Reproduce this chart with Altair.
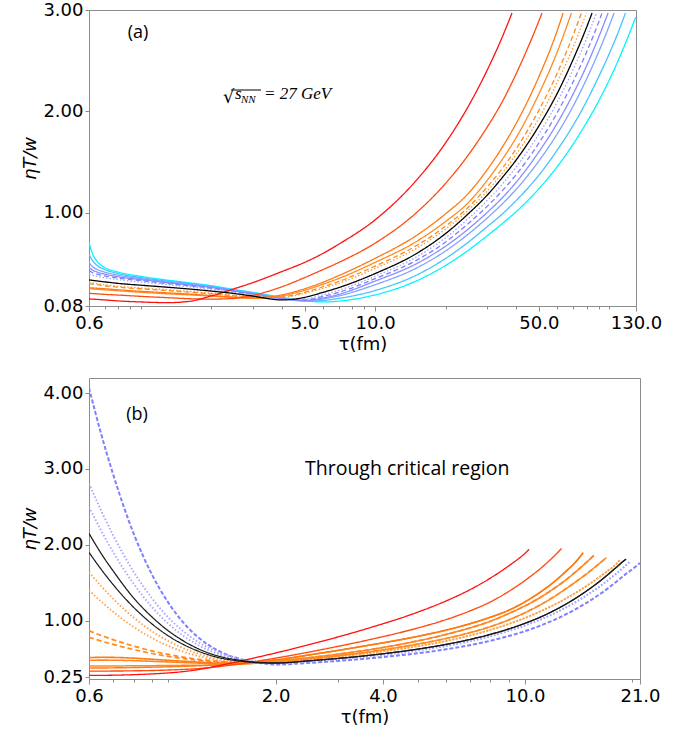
import altair as alt
import pandas as pd

# ---------------- Panel (a) data ----------------
TAU_A = [0.6, 0.62, 0.65, 0.7, 0.8, 1.0, 1.3, 1.6, 2.0, 2.5, 3.0, 4.0, 5.0, 6.0, 7.0,
         10, 15, 20, 25, 30, 35, 40, 50, 60, 70, 80, 90, 100, 110, 120]

A_RED = [0.15, 0.148, 0.145, 0.14, 0.13, 0.12, 0.113, 0.125, 0.18, 0.25, 0.31, 0.42, 0.51, 0.60, 0.69,
         0.93, 1.32, 1.69, 2.05, 2.40, 2.74]
A_RED_END = [38.4, 2.97]
A_ORED = [0.205, 0.203, 0.20, 0.195, 0.188, 0.175, 0.162, 0.152, 0.148, 0.155, 0.185, 0.27, 0.36, 0.44, 0.51,
          0.70, 1.00, 1.29, 1.57, 1.84, 2.10, 2.37, 2.89]
A_ORED_END = [51.6, 2.97]
A_OR1 = [0.26, 0.258, 0.255, 0.25, 0.24, 0.225, 0.21, 0.198, 0.183, 0.168, 0.16, 0.19, 0.25, 0.315, 0.38,
         0.55, 0.775, 0.99, 1.19, 1.42, 1.65, 1.88, 2.34, 2.80]
A_OR1_END = [63.5, 2.97]
A_OR2 = [0.25, 0.248, 0.245, 0.24, 0.23, 0.215, 0.20, 0.19, 0.177, 0.163, 0.155, 0.18, 0.235, 0.295, 0.352,
         0.51, 0.716, 0.914, 1.10, 1.315, 1.53, 1.74, 2.17, 2.59]
A_OR2_END = [68.9, 2.97]
A_ORDASH = [0.30, 0.295, 0.29, 0.28, 0.265, 0.25, 0.232, 0.217, 0.20, 0.18, 0.165, 0.17, 0.215, 0.27, 0.322,
            0.474, 0.675, 0.868, 1.054, 1.25, 1.44, 1.63, 2.01, 2.38, 2.75]
A_ORDASH_END = [76.0, 2.97]
A_ORDOT = [0.313, 0.308, 0.30, 0.29, 0.275, 0.258, 0.24, 0.225, 0.206, 0.185, 0.168, 0.165, 0.205, 0.255, 0.303,
           0.451, 0.649, 0.839, 1.025, 1.21, 1.395, 1.576, 1.93, 2.29, 2.63]
A_ORDOT_END = [79.8, 2.97]
A_BLACK = [0.337, 0.333, 0.327, 0.318, 0.303, 0.285, 0.265, 0.248, 0.227, 0.203, 0.178, 0.14, 0.165, 0.215, 0.262,
           0.40, 0.597, 0.795, 0.99, 1.17, 1.35, 1.52, 1.855, 2.18, 2.51, 2.83]
A_BLACK_END = [84.4, 2.97]
A_BDOT = [0.396, 0.385, 0.372, 0.36, 0.34, 0.315, 0.29, 0.27, 0.245, 0.215, 0.19, 0.145, 0.15, 0.19, 0.235,
          0.374, 0.563, 0.753, 0.943, 1.117, 1.285, 1.45, 1.775, 2.095, 2.41, 2.72]
A_BDOT_END = [88.1, 2.97]
A_BDASH = [0.43, 0.41, 0.395, 0.378, 0.355, 0.33, 0.30, 0.28, 0.255, 0.222, 0.195, 0.148, 0.14, 0.175, 0.215,
           0.35, 0.53, 0.712, 0.894, 1.06, 1.22, 1.376, 1.686, 1.99, 2.29, 2.586, 2.878]
A_BDASH_END = [93.1, 2.97]
A_BLUE1 = [0.46, 0.435, 0.415, 0.395, 0.368, 0.34, 0.31, 0.288, 0.262, 0.228, 0.20, 0.152, 0.135, 0.16, 0.195,
           0.326, 0.497, 0.67, 0.84, 1.0, 1.15, 1.30, 1.60, 1.885, 2.17, 2.45, 2.73]
A_BLUE1_END = [98.8, 2.97]
A_BLUE2 = [0.51, 0.47, 0.44, 0.415, 0.383, 0.35, 0.318, 0.295, 0.268, 0.233, 0.205, 0.155, 0.132, 0.15, 0.18,
           0.29, 0.454, 0.623, 0.79, 0.945, 1.09, 1.23, 1.51, 1.78, 2.05, 2.32, 2.585, 2.846]
A_BLUE2_END = [104.8, 2.97]
A_LBLUE = [0.593, 0.53, 0.48, 0.44, 0.40, 0.36, 0.325, 0.302, 0.273, 0.238, 0.21, 0.16, 0.128, 0.135, 0.155,
           0.233, 0.384, 0.549, 0.71, 0.86, 0.99, 1.12, 1.37, 1.62, 1.86, 2.10, 2.34, 2.57, 2.80]
A_LBLUE_END = [117.2, 2.97]
A_CYAN = [0.707, 0.60, 0.52, 0.46, 0.415, 0.372, 0.335, 0.31, 0.28, 0.243, 0.215, 0.165, 0.132, 0.12, 0.128,
          0.19, 0.327, 0.48, 0.63, 0.77, 0.895, 1.01, 1.235, 1.456, 1.675, 1.89, 2.10, 2.31, 2.52, 2.73]
A_CYAN_END = [129.7, 2.93]

# ---------------- Panel (b) data ----------------
TAU_B = [0.6, 0.65, 0.7, 0.8, 0.9, 1.0, 1.1, 1.2, 1.4, 1.6, 1.8, 2.0, 2.5, 3.0, 3.67,
         5, 6, 7, 8, 9, 10, 11, 12, 13, 14, 15, 16, 17, 18, 19, 20]

B_RED = [0.277, 0.278, 0.28, 0.287, 0.297, 0.31, 0.327, 0.35, 0.41, 0.468, 0.523, 0.573, 0.687, 0.786, 0.905,
         1.111, 1.258, 1.406, 1.561, 1.722, 1.888]
B_RED_END = [10.27, 1.94]
B_ORED = [0.334, 0.334, 0.335, 0.338, 0.342, 0.348, 0.356, 0.366, 0.395, 0.432, 0.469, 0.505, 0.588, 0.662, 0.749,
          0.902, 1.012, 1.127, 1.247, 1.384, 1.53, 1.68, 1.84]
B_ORED_END = [12.65, 1.95]
# late parts (from tau = 2.0)
B_OR1_LATE = [0.48, 0.549, 0.608, 0.677, 0.792, 0.874, 0.958, 1.045, 1.137, 1.248, 1.371, 1.503, 1.646, 1.796]
B_OR1_END = [14.55, 1.895]
B_OR2_LATE = [0.465, 0.513, 0.558, 0.617, 0.732, 0.817, 0.903, 0.992, 1.093, 1.194, 1.302, 1.417, 1.535, 1.66,
              1.785]
B_OR2_END = [15.6, 1.86]
B_OR3_LATE = [0.455, 0.497, 0.537, 0.59, 0.69, 0.764, 0.84, 0.921, 1.009, 1.104, 1.204, 1.309, 1.418, 1.525,
              1.63, 1.737]
B_OR3_END = [16.9, 1.83]
# late parts (from tau = 2.5)
B_DOT_LATE = [0.488, 0.525, 0.572, 0.663, 0.731, 0.803, 0.878, 0.955, 1.035, 1.118, 1.203, 1.29, 1.379, 1.469,
              1.56, 1.652, 1.745]
B_DOT_END = [18.4, 1.80]
B_BLACK_LATE = [0.471, 0.502, 0.543, 0.624, 0.686, 0.751, 0.819, 0.89, 0.965, 1.043, 1.128, 1.216, 1.308, 1.403,
                1.50, 1.60, 1.70, 1.795]
B_BLACK_END = [19.2, 1.81]
B_BDOT_LATE = [0.465, 0.493, 0.53, 0.607, 0.666, 0.728, 0.794, 0.864, 0.936, 1.011, 1.089, 1.171, 1.256, 1.344,
               1.434, 1.526, 1.619, 1.713]
B_BDOT_END = [19.7, 1.78]
B_BDASH_LATE = [0.444, 0.469, 0.503, 0.57, 0.621, 0.676, 0.734, 0.796, 0.861, 0.931, 1.004, 1.081, 1.162, 1.245,
                1.331, 1.419, 1.51, 1.60, 1.68]
B_BDASH_END = [21.0, 1.76]
# early parts (tau 0.6 .. 1.8)
B_S1 = [0.512, 0.516, 0.515, 0.505, 0.49, 0.477, 0.465, 0.455, 0.44, 0.44, 0.455]
B_S2 = [0.476, 0.479, 0.478, 0.472, 0.463, 0.455, 0.447, 0.44, 0.43, 0.43, 0.445]
B_S3 = [0.40, 0.401, 0.402, 0.404, 0.406, 0.408, 0.41, 0.412, 0.415, 0.425, 0.44]
B_S4 = [0.374, 0.375, 0.377, 0.381, 0.386, 0.391, 0.397, 0.403, 0.418, 0.435, 0.455]
B_D1 = [0.865, 0.803, 0.75, 0.664, 0.60, 0.554, 0.519, 0.493, 0.46, 0.445, 0.452]
B_D2 = [0.78, 0.73, 0.687, 0.618, 0.567, 0.528, 0.50, 0.479, 0.453, 0.44, 0.445]
# early parts (tau 0.6 .. 2.0)
B_P1 = [1.64, 1.452, 1.292, 1.041, 0.861, 0.731, 0.638, 0.571, 0.489, 0.456, 0.449, 0.452]
B_P2 = [1.40, 1.248, 1.119, 0.917, 0.772, 0.667, 0.592, 0.538, 0.471, 0.447, 0.444, 0.45]
B_K1 = [2.15, 1.88, 1.66, 1.30, 1.05, 0.867, 0.736, 0.64, 0.525, 0.475, 0.448, 0.442]
B_K2 = [1.90, 1.672, 1.479, 1.176, 0.958, 0.80, 0.688, 0.607, 0.507, 0.465, 0.444, 0.44]
B_B1 = [2.81, 2.444, 2.133, 1.646, 1.297, 1.043, 0.863, 0.733, 0.572, 0.494, 0.456, 0.439]
B_B2 = [2.50, 2.181, 1.91, 1.486, 1.181, 0.961, 0.803, 0.69, 0.55, 0.482, 0.45, 0.436]
B_BD = [4.07, 3.45, 2.94, 2.15, 1.61, 1.24, 0.98, 0.80, 0.59, 0.49, 0.443, 0.42]

A_XTICKS = [0.6, 5, 10, 50, 130]
A_XMINOR = [0.7, 0.8, 0.9, 1, 2, 3, 4, 6, 7, 8, 9, 20, 30, 40, 60, 70, 80, 90, 100]
A_YTICKS = [0.08, 1, 2, 3]
B_XTICKS = [0.6, 2, 4, 10, 21]
B_XMINOR = [0.7, 0.8, 0.9, 1, 3, 5, 6, 7, 8, 9, 20]
B_YTICKS = [0.25, 1, 2, 3, 4]

SOLID = [1, 0]
DASH = [5, 3]
DOT = [1.5, 2]

# series: (name, values, end, color, dash, width)
SERIES_A = [
    ("a13", A_CYAN, A_CYAN_END, "#00f5ff", SOLID, 1.3),
    ("a12", A_LBLUE, A_LBLUE_END, "#45c2ff", SOLID, 1.3),
    ("a11", A_BLUE2, A_BLUE2_END, "#7ea4ff", SOLID, 1.3),
    ("a10", A_BLUE1, A_BLUE1_END, "#8a8cff", SOLID, 1.3),
    ("a09", A_BDASH, A_BDASH_END, "#7d7dff", DASH, 1.3),
    ("a08", A_BDOT, A_BDOT_END, "#a0a0ff", DOT, 1.3),
    ("a06", A_ORDOT, A_ORDOT_END, "#ff9a30", DOT, 1.3),
    ("a05", A_ORDASH, A_ORDASH_END, "#ff8a1a", DASH, 1.3),
    ("a04", A_OR2, A_OR2_END, "#ff8a20", SOLID, 1.3),
    ("a03", A_OR1, A_OR1_END, "#ff7a10", SOLID, 1.3),
    ("a02", A_ORED, A_ORED_END, "#ff4a10", SOLID, 1.3),
    ("a01", A_RED, A_RED_END, "#ff1010", SOLID, 1.3),
    ("a07", A_BLACK, A_BLACK_END, "#000000", SOLID, 1.3),
]

SERIES_B = [
    ("b15", B_BD + B_BDASH_LATE, B_BDASH_END, "#7f7fff", [4, 2], 2.0),
    ("b14", B_B1 + B_BDOT_LATE, B_BDOT_END, "#a8a8ff", DOT, 1.2),
    ("b13", B_B2 + B_BDOT_LATE, B_BDOT_END, "#a8a8ff", DOT, 1.2),
    ("b10", B_P1 + B_DOT_LATE, B_DOT_END, "#ffa048", DOT, 1.2),
    ("b09", B_P2 + B_DOT_LATE, B_DOT_END, "#ffa048", DOT, 1.2),
    ("b08", B_D1 + B_OR2_LATE, B_OR2_END, "#ff8a1a", DASH, 1.3),
    ("b07", B_D2 + B_OR3_LATE, B_OR3_END, "#ff8a1a", DASH, 1.3),
    ("b03", B_S1 + B_OR1_LATE, B_OR1_END, "#ff7a10", SOLID, 1.3),
    ("b04", B_S2 + B_OR2_LATE, B_OR2_END, "#ff8420", SOLID, 1.3),
    ("b05", B_S3 + B_OR3_LATE, B_OR3_END, "#ff8a25", SOLID, 1.3),
    ("b06", B_S4 + B_OR1_LATE, B_OR1_END, "#ff7a10", SOLID, 1.3),
    ("b02", B_ORED, B_ORED_END, "#ff4a10", SOLID, 1.3),
    ("b01", B_RED, B_RED_END, "#ff1010", SOLID, 1.3),
    ("b12", B_K1 + B_BLACK_LATE, B_BLACK_END, "#1a1a1a", SOLID, 1.3),
    ("b11", B_K2 + B_BLACK_LATE, B_BLACK_END, "#1a1a1a", SOLID, 1.3),
]


def build(series, grid):
    rows = []
    for name, vals, end, *_ in series:
        taus = grid[:len(vals)] + [end[0]]
        vs = list(vals) + [end[1]]
        for i, (t, v) in enumerate(zip(taus, vs)):
            rows.append({"series": name, "tau": t, "v": v, "i": i})
    return pd.DataFrame(rows)


def label_expr(ticks):
    arr = ",".join(str(t) for t in ticks)
    return f"indexof([{arr}], datum.value) >= 0 ? format(datum.value, '.1f') : ''"


def tick_size(ticks):
    arr = ",".join(str(t) for t in ticks)
    return {"condition": {"test": f"indexof([{arr}], datum.value) >= 0", "value": 5}, "value": 3}


def lines(df, series, xdom, ydom, xticks, xminor, yticks, w, h):
    names = [s[0] for s in series]
    colors = [s[3] for s in series]
    dashes = [s[4] for s in series]
    widths = [s[5] for s in series]
    return alt.Chart(df).mark_line(interpolate="monotone", clip=True).encode(
        x=alt.X("tau:Q",
                scale=alt.Scale(type="log", domain=xdom, nice=False),
                axis=alt.Axis(values=xticks + xminor, labelExpr=label_expr(xticks),
                              tickSize=tick_size(xticks), labelFlush=False, labelOverlap=False,
                              labelPadding=3, title="τ(fm)", titlePadding=3)),
        y=alt.Y("v:Q",
                scale=alt.Scale(domain=ydom, nice=False, zero=False),
                axis=alt.Axis(values=yticks, format=".2f", tickSize=4, labelPadding=2,
                              labelOverlap=False, title="ηT/w", titleFontStyle="italic",
                              titlePadding=3)),
        color=alt.Color("series:N", scale=alt.Scale(domain=names, range=colors), legend=None),
        strokeDash=alt.StrokeDash("series:N", scale=alt.Scale(domain=names, range=dashes), legend=None),
        strokeWidth=alt.StrokeWidth("series:N", scale=alt.Scale(domain=names, range=widths), legend=None),
        order=alt.Order("i:Q"),
    ).properties(width=w, height=h)


def txt(text, x, y, size, font, style="normal", align="left", baseline="alphabetic"):
    return alt.Chart(pd.DataFrame({"t": [text]})).mark_text(
        align=align, baseline=baseline, fontSize=size, font=font, fontStyle=style, color="black"
    ).encode(text="t:N", x=alt.value(x), y=alt.value(y))


df_a = build(SERIES_A, TAU_A)
df_b = build(SERIES_B, TAU_B)

pa_lines = lines(df_a, SERIES_A, [0.6, 130], [0.08, 3.0], A_XTICKS, A_XMINOR, A_YTICKS, 547, 296)
overline = alt.Chart(pd.DataFrame({"k": [0]})).mark_rule(color="black", strokeWidth=1).encode(
    x=alt.value(142), x2=alt.value(172), y=alt.value(80))
panel_a = alt.layer(
    pa_lines,
    txt("(a)", 49, 23, 18, "Open Sans", align="center", baseline="middle"),
    txt("√", 134, 93, 18, "DejaVu Serif"),
    overline,
    txt("s", 146, 89, 17, "Liberation Serif", "italic"),
    txt("NN", 152, 93, 11, "Liberation Serif", "italic"),
    txt("= 27 GeV", 175, 89, 17, "Liberation Serif", "italic"),
)

pb_lines = lines(df_b, SERIES_B, [0.6, 21], [0.23, 4.2], B_XTICKS, B_XMINOR, B_YTICKS, 551, 301)
panel_b = alt.layer(
    pb_lines,
    txt("(b)", 48, 37, 18, "Open Sans", align="center", baseline="middle"),
    txt("Through critical region", 216, 91, 19.5, "Open Sans", baseline="middle"),
)

chart = alt.vconcat(panel_a, panel_b, spacing=23).resolve_scale(
    color="independent", strokeDash="independent", strokeWidth="independent",
    x="independent", y="independent"
).properties(
    padding={"left": 21, "top": 0, "right": 0, "bottom": 0}
).configure_axis(
    labelFont="DejaVu Sans", labelFontSize=18, labelColor="#000000",
    titleFont="DejaVu Sans", titleFontSize=18, titleFontWeight="normal", titleColor="#000000",
    domainColor="#8c8c8c", tickColor="#8c8c8c", grid=False,
).configure_view(stroke="#8c8c8c", strokeWidth=1)

chart.save("out.html", embed_options={"renderer": "svg", "actions": False})
